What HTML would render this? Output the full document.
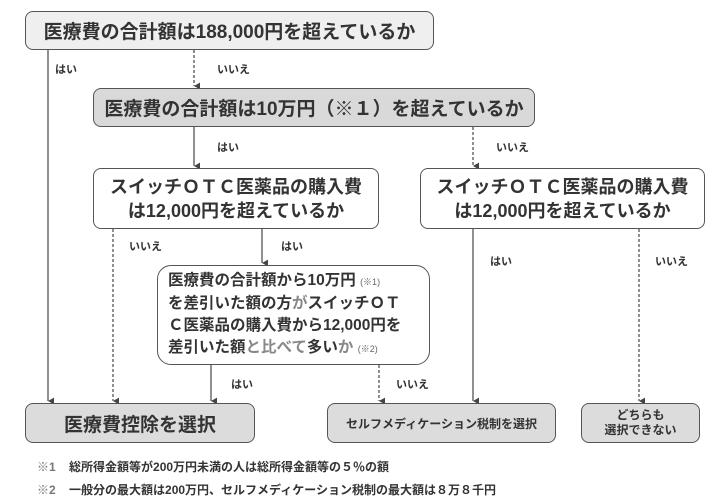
<!DOCTYPE html>
<html><head><meta charset="utf-8"><style>
body{margin:0;width:720px;height:501px;background:#fff;position:relative;overflow:hidden;font-family:"Liberation Sans","Noto Sans CJK JP",sans-serif;color:#333}
.b{position:absolute;box-sizing:border-box;border:1.5px solid #555;border-radius:8px;display:flex;align-items:center;justify-content:center;text-align:center;font-weight:bold}
.l{position:absolute;font-size:11px;font-weight:bold;color:#333}
.f{position:absolute;font-size:12px;font-weight:bold;color:#333;left:37px}
svg{position:absolute;left:0;top:0}
.g{color:#888}
.s{font-size:9px;font-weight:normal;color:#666}
</style></head><body>
<svg width="720" height="501">
<defs><marker id="a" markerWidth="8" markerHeight="8" refX="4" refY="6" orient="auto" markerUnits="userSpaceOnUse"><path d="M0,0 L8,0 L4,7 z" fill="#444" transform="translate(0,-1)"/></marker></defs>
<g stroke="#555" stroke-width="1.3" fill="none">
<line x1="48" y1="50" x2="48" y2="401" marker-end="url(#a)"/>
<line x1="194" y1="50" x2="194" y2="86" stroke-dasharray="3,2" marker-end="url(#a)"/>
<line x1="194" y1="127" x2="194" y2="166" marker-end="url(#a)"/>
<line x1="473" y1="127" x2="473" y2="166" stroke-dasharray="3,2" marker-end="url(#a)"/>
<line x1="113" y1="229" x2="113" y2="401" stroke-dasharray="3,2" marker-end="url(#a)"/>
<line x1="262" y1="229" x2="262" y2="263" marker-end="url(#a)"/>
<line x1="211" y1="365" x2="211" y2="401" marker-end="url(#a)"/>
<line x1="379" y1="365" x2="379" y2="401" stroke-dasharray="3,2" marker-end="url(#a)"/>
<line x1="473" y1="229" x2="473" y2="401" marker-end="url(#a)"/>
<line x1="639" y1="229" x2="639" y2="401" stroke-dasharray="3,2" marker-end="url(#a)"/>
</g></svg>
<div class="b" style="left:25px;top:11px;width:409px;height:39px;background:#efefef;font-size:19px">医療費の合計額は188,000円を超えているか</div>
<div class="b" style="left:93px;top:88px;width:442px;height:39px;background:#d9d9d9;font-size:19px">医療費の合計額は10万円（※１）を超えているか</div>
<div class="b" style="left:93px;top:168px;width:286px;height:61px;background:#fff;font-size:18px;line-height:24px">スイッチＯＴＣ医薬品の購入費<br>は12,000円を超えているか</div>
<div class="b" style="left:420px;top:168px;width:285px;height:61px;background:#fff;font-size:18px;line-height:24px">スイッチＯＴＣ医薬品の購入費<br>は12,000円を超えているか</div>
<div class="b" style="left:157px;top:265px;width:273px;height:100px;background:#fff;font-size:15.5px;line-height:22px;text-align:left;justify-content:flex-start;padding-left:10px;border-radius:14px"><div>医療費の合計額から10万円 <span class="s">(※1)</span><br>を差引いた額の方<span class="g">が</span>スイッチＯＴ<br>Ｃ医薬品の購入費から12,000円を<br>差引いた額<span class="g">と比べて</span>多い<span class="g">か</span> <span class="s">(※2)</span></div></div>
<div class="b" style="left:25px;top:403px;width:230px;height:40px;background:#dcdcdc;font-size:19px">医療費控除を選択</div>
<div class="b" style="left:327px;top:403px;width:229px;height:40px;background:#dcdcdc;font-size:12px">セルフメディケーション税制を選択</div>
<div class="b" style="left:581px;top:403px;width:119px;height:40px;background:#dcdcdc;font-size:12px;line-height:15px">どちらも<br>選択できない</div>
<div class="l" style="left:55px;top:61px">はい</div>
<div class="l" style="left:217px;top:61px">いいえ</div>
<div class="l" style="left:217px;top:139px">はい</div>
<div class="l" style="left:496px;top:139px">いいえ</div>
<div class="l" style="left:129px;top:238px">いいえ</div>
<div class="l" style="left:281px;top:238px">はい</div>
<div class="l" style="left:490px;top:253px">はい</div>
<div class="l" style="left:655px;top:253px">いいえ</div>
<div class="l" style="left:231px;top:376px">はい</div>
<div class="l" style="left:396px;top:376px">いいえ</div>
<div class="f" style="top:458px"><span style="color:#777">※1</span>&nbsp;&nbsp;&nbsp;&nbsp;総所得金額等が200万円未満の人は総所得金額等の５％の額</div>
<div class="f" style="top:481px"><span style="color:#777">※2</span>&nbsp;&nbsp;&nbsp;&nbsp;一般分の最大額は200万円、セルフメディケーション税制の最大額は８万８千円</div>
</body></html>
